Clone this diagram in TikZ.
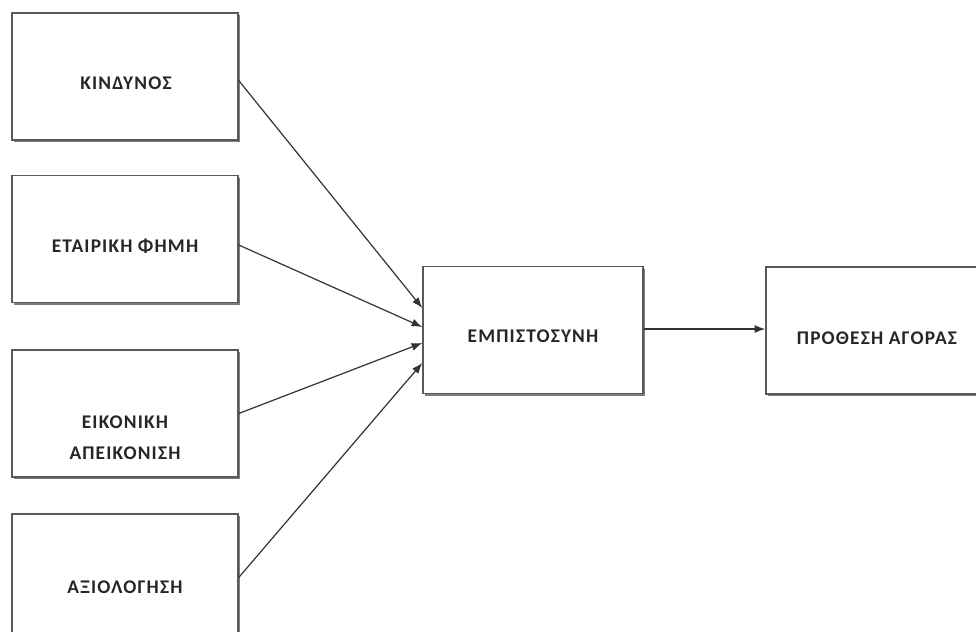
\documentclass[tikz,border=0pt]{standalone}
\usepackage{fontspec}
\setmainfont{Carlito}[LetterSpace=6]
\usetikzlibrary{arrows.meta,shadows,calc}
\begin{document}
\begin{tikzpicture}[x=0.75pt,y=-0.75pt,
  box/.style={draw=black!65,line width=1.1pt,fill=white,rectangle,inner sep=0pt,
    minimum width=226*0.75pt,minimum height=127*0.75pt,
    drop shadow={shadow xshift=1.8pt,shadow yshift=-1.8pt,fill=black!60,opacity=0.85}},
  lbl/.style={font=\bfseries\fontsize{14.5}{23}\selectfont,text=black!85,align=center},
  conn/.style={draw=black!80,line width=0.9pt,-{Latex[length=8pt,width=6pt]}}]
\useasboundingbox (0,0) rectangle (976,632);
\fill[white] (0,0) rectangle (976,632);
\clip (0,0) rectangle (976,632);
\node[box] (k) at (125,76.5) {};
\node[box] (f) at (125,239) {};
\node[box] (a) at (125,413.5) {};
\node[box] (x) at (125,577.5) {};
\node[box,minimum width=220*0.75pt] (e) at (533,330) {};
\node[box,minimum width=226*0.75pt] (p) at (879,330.5) {};
\node[lbl] (tk) at (126,83) {ΚΙΝΔΥΝΟΣ};
\node[lbl] (tf) at (125,246) {ΕΤΑΙΡΙΚΗ ΦΗΜΗ};
\node[lbl] (ta) at (125,437.5) {ΕΙΚΟΝΙΚΗ\\ΑΠΕΙΚΟΝΙΣΗ};
\node[lbl] (tx) at (125,587) {ΑΞΙΟΛΟΓΗΣΗ};
\node[lbl] (te) at (533,336) {ΕΜΠΙΣΤΟΣΥΝΗ};
\node[lbl] (tp) at (877,338) {ΠΡΟΘΕΣΗ ΑΓΟΡΑΣ};
\draw[conn] ($(k.east)+(0,4)$) -- ($(e.west)+(0,-22)$);
\draw[conn] ($(f.east)+(0,6)$) -- ($(e.west)+(0,-3)$);
\draw[conn] (a.east) -- ($(e.west)+(0,13)$);
\draw[conn] (x.east) -- ($(e.west)+(0,33)$);
\draw[conn] ($(e.east)+(0,-1)$) -- ($(p.west)+(0,-1.5)$);
\end{tikzpicture}
\end{document}
